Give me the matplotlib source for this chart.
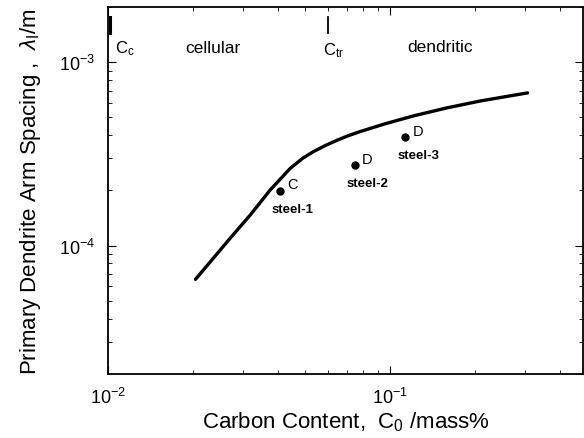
import numpy as np
import matplotlib
matplotlib.use("Agg")
import matplotlib.pyplot as plt

plt.rcParams['font.family'] = ['Liberation Sans', 'DejaVu Sans']
plt.rcParams['mathtext.fontset'] = 'custom'
plt.rcParams['mathtext.rm'] = 'Liberation Sans'
plt.rcParams['mathtext.it'] = 'Liberation Sans:italic'

# calculated curve
curve_c = [0.0204, 0.0271, 0.0319, 0.0375, 0.0442, 0.0490, 0.0533, 0.0590, 0.0649,
           0.0705, 0.0783, 0.096, 0.121, 0.159, 0.209, 0.306]
curve_lam = [6.55e-5, 1.10e-4, 1.47e-4, 2.01e-4, 2.64e-4, 3.0e-4, 3.25e-4, 3.52e-4, 3.76e-4,
             3.96e-4, 4.19e-4, 4.62e-4, 5.1e-4, 5.64e-4, 6.15e-4, 6.8e-4]

# measured steels
steel_c = [0.0407, 0.075, 0.113]
steel_lam = [1.98e-4, 2.74e-4, 3.89e-4]
steel_names = ["steel-1", "steel-2", "steel-3"]
steel_mode = ["C", "D", "D"]

c_c = 0.0102
c_tr = 0.060

fig = plt.figure(figsize=(5.84, 4.39), dpi=100)
ax = fig.add_axes([0.185, 0.146, 0.813, 0.836])

ax.plot(curve_c, curve_lam, 'k-', lw=2.4, solid_capstyle='round', solid_joinstyle='round')
ax.plot(steel_c, steel_lam, 'ko', ms=5)
for x, y, name, mode in zip(steel_c, steel_lam, steel_names, steel_mode):
    ax.annotate(mode, (x, y), xytext=(5, 2), textcoords='offset points',
                fontsize=10.5)
    ax.annotate(name, (x, y), xytext=(-6, -15), textcoords='offset points',
                fontsize=9.5, fontweight='bold')

# critical concentrations
ax.plot([c_c, c_c], [1.45e-3, 1.77e-3], 'k-', lw=2.2)
ax.plot([c_tr, c_tr], [1.45e-3, 1.77e-3], 'k-', lw=1.3)
ax.text(0.0106, 1.2e-3, r"C$_{\rm c}$", fontsize=12, va='center')
ax.text(0.0575, 1.17e-3, r"C$_{\rm tr}$", fontsize=12, va='center')
ax.text(0.0235, 1.2e-3, "cellular", fontsize=12.5, ha='center', va='center')
ax.text(0.15, 1.22e-3, "dendritic", fontsize=12.5, ha='center', va='center')

ax.set_xscale('log')
ax.set_yscale('log')
ax.set_xlim(0.01, 0.48)
ax.set_ylim(2e-5, 2e-3)

ax.tick_params(which='both', direction='in', top=True, right=True, labelsize=13, pad=9)
ax.tick_params(which='major', length=6)
ax.tick_params(which='minor', length=3)
for s in ax.spines.values():
    s.set_linewidth(1.3)

ax.set_xlabel(r"Carbon Content,  C$_0$ /mass%", fontsize=16, labelpad=2)
ax.set_ylabel(r"Primary Dendrite Arm Spacing ,  $\lambda_{\rm I}$/m", fontsize=16, labelpad=12)

fig.savefig("out.png", dpi=100)
